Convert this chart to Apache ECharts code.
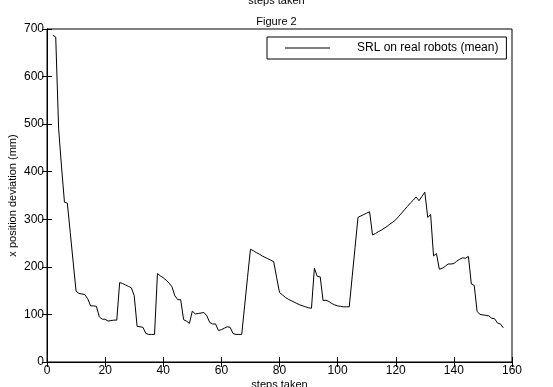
<!DOCTYPE html>
<html>
<head>
<meta charset="utf-8">
<script src="https://cdn.jsdelivr.net/npm/echarts@6/dist/echarts.min.js"></script>
<style>
  html, body { margin: 0; padding: 0; background: #fff; }
  #chart { width: 553px; height: 387px; }
</style>
</head>
<body>
<div id="chart"></div>
<script>
// first plotted step, values follow one per step
const firstStep = 2
const deviation = [
  687, 683, 490, 410, 336, 334, 272, 210, 149, 144,
  143, 142, 133, 118, 118, 117, 95, 90, 90, 86,
  87, 88, 88, 167, 165, 162, 159, 156, 140, 75,
  74, 73, 60, 58, 58, 58, 186, 181, 177, 172,
  166, 158, 139, 131, 131, 89, 86, 81, 107, 101,
  102, 103, 104, 97, 83, 80, 80, 66, 68, 71,
  74, 73, 60, 58, 58, 58, 118, 178, 237, 234,
  230, 227, 223, 220, 217, 214, 211, 178, 146, 141,
  136, 132, 129, 126, 123, 120, 118, 116, 114, 113,
  197, 180, 179, 129, 130, 127, 123, 120, 118, 117,
  116, 116, 116, 179, 241, 304, 307, 310, 313, 316,
  267, 270, 274, 277, 281, 285, 290, 294, 299, 306,
  313, 320, 327, 334, 340, 347, 339, 348, 357, 304,
  310, 223, 228, 195, 197, 201, 206, 206, 207, 212,
  216, 219, 218, 222, 164, 161, 106, 100, 99, 98,
  97, 92, 91, 82, 80, 72
]
const xTicks = [0, 20, 40, 60, 80, 100, 120, 140, 160]
const yTicks = [0, 100, 200, 300, 400, 500, 600, 700]
const seriesName = 'SRL on real robots (mean)'

const font = 'Liberation Sans, Arial, Helvetica, sans-serif'
const chart = echarts.init(document.getElementById('chart'))

const tickStyle = { inside: true, length: 5, lineStyle: { color: '#000', width: 1 } }

chart.setOption({
  animation: false,
  backgroundColor: '#fff',
  textStyle: { fontFamily: font },
  title: [
    { text: 'Figure 2', left: 'center', top: 11, textStyle: { fontSize: 11, fontWeight: 'normal', color: '#000', fontFamily: font } },
    { text: 'steps taken', left: 'center', top: -10, textStyle: { fontSize: 11, fontWeight: 'normal', color: '#000', fontFamily: font } },
  ],
  grid: {
    left: 47, right: 41, top: 29, bottom: 25,
    outerBoundsMode: 'none',
    show: true, borderColor: '#000', borderWidth: 1,
  },
  legend: {
    data: [seriesName],
    left: 267,
    top: 37,
    orient: 'vertical',
    padding: [5, 8, 5, 18],
    borderColor: '#000',
    borderWidth: 1,
    backgroundColor: '#fff',
    icon: 'rect',
    itemWidth: 45,
    itemHeight: 1,
    textStyle: { fontSize: 12, color: '#000', fontFamily: font, padding: [0, 0, 0, 22] },
  },
  xAxis: [
    {
      type: 'value',
      min: xTicks[0],
      max: xTicks[xTicks.length - 1],
      interval: 20,
      name: 'steps taken',
      nameLocation: 'middle',
      nameGap: 17,
      nameMoveOverlap: false,
      nameTextStyle: { fontSize: 11, color: '#000', fontFamily: font },
      axisLine: { show: true, lineStyle: { color: '#000' } },
      axisTick: tickStyle,
      axisLabel: { color: '#000', fontSize: 12, margin: 3, fontFamily: font },
      splitLine: { show: false },
    },
    {
      type: 'value',
      position: 'top',
      min: xTicks[0],
      max: xTicks[xTicks.length - 1],
      interval: 20,
      axisLine: { show: true, lineStyle: { color: '#000' } },
      axisTick: tickStyle,
      axisLabel: { show: false },
      splitLine: { show: false },
    },
  ],
  yAxis: [
    {
      type: 'value',
      min: yTicks[0],
      max: yTicks[yTicks.length - 1],
      interval: 100,
      name: 'x position deviation (mm)',
      nameLocation: 'middle',
      nameGap: 29,
      nameMoveOverlap: false,
      nameTextStyle: { fontSize: 11, color: '#000', fontFamily: font },
      axisLine: { show: true, lineStyle: { color: '#000' } },
      axisTick: tickStyle,
      axisLabel: { color: '#000', fontSize: 12, margin: 3, fontFamily: font },
      splitLine: { show: false },
    },
    {
      type: 'value',
      position: 'right',
      min: yTicks[0],
      max: yTicks[yTicks.length - 1],
      interval: 100,
      axisLine: { show: true, lineStyle: { color: '#000' } },
      axisTick: tickStyle,
      axisLabel: { show: false },
      splitLine: { show: false },
    },
  ],
  series: [
    {
      name: seriesName,
      type: 'line',
      symbol: 'none',
      color: '#000',
      lineStyle: { color: '#000', width: 1 },
      data: deviation.map((v, i) => [firstStep + i, v]),
    },
  ],
})
</script>
</body>
</html>
